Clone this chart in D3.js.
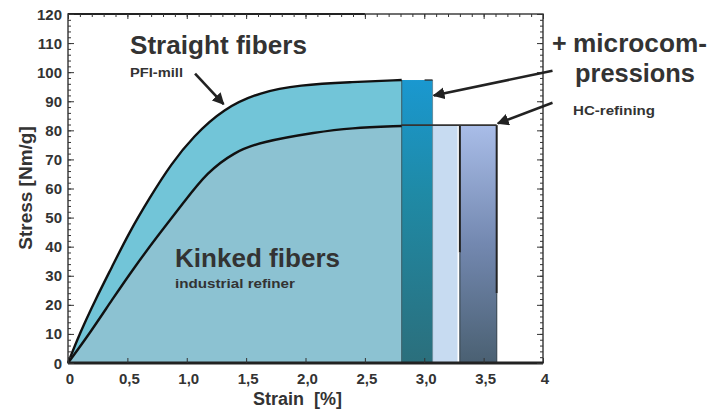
<!DOCTYPE html>
<html>
<head>
<meta charset="utf-8">
<script src="https://cdn.jsdelivr.net/npm/d3@7"></script>
<style>
  body { margin: 0; background: #fff; }
  svg { display: block; }
  text { font-family: "Liberation Sans", Arial, sans-serif; font-weight: bold; fill: #333; }
</style>
</head>
<body>
<svg width="710" height="412"></svg>
<script>
// curve (strain %, stress Nm/g)
var strainStraight = [0, 0.10, 0.23, 0.37, 0.51, 0.69, 0.87, 1.05, 1.31, 1.62, 1.95, 2.37, 2.81];
var stressStraight = [0, 10.3, 21.7, 33, 44.5, 57, 68.5, 77.7, 87.5, 93.2, 95.6, 96.6, 97.3];
var strainKinked = [0, 0.185, 0.37, 0.56, 0.77, 0.98, 1.17, 1.40, 1.62, 2.10, 2.37, 2.81];
var stressKinked = [0, 10.3, 21.7, 33, 44.5, 55.5, 65.5, 72.5, 76, 79.4, 80.8, 81.5];

// the blocks after the curves
var barNames = ["microcompressions", "kinked-end", "HC-refining"];
var barStart = [2.81, 3.07, 3.30];
var barEnd = [3.07, 3.28, 3.61];
var barTop = [97.3, 81.8, 81.8];

var xTicks = [0, 0.5, 1.0, 1.5, 2.0, 2.5, 3.0, 3.5, 4];
var xTickLabels = ["0", "0,5", "1,0", "1,5", "2,0", "2,5", "3,0", "3,5", "4"];
var yTicks = [0, 10, 20, 30, 40, 50, 60, 70, 80, 90, 100, 110, 120];

var svg = d3.select("svg");
// note: "top" is reserved on window, so plot edges get a prefix
var pLeft = 68, pRight = 543, pTop = 14, pBottom = 363;

var x = d3.scaleLinear().domain([0, 4]).range([pLeft, pRight]);
var y = d3.scaleLinear().domain([0, 120]).range([pBottom, pTop]);

var defs = svg.append("defs");
function vGrad(id, stops) {
    var g = defs.append("linearGradient").attr("id", id)
        .attr("x1", 0).attr("y1", 0).attr("x2", 0).attr("y2", 1);
    stops.forEach(function(s) {
        g.append("stop").attr("offset", s[0]).attr("stop-color", s[1]);
    });
}
vGrad("gMicro", [[0, "#1a98d0"], [0.4, "#1f8aa6"], [1, "#2b6f7c"]]);
vGrad("gHC", [[0, "#a9bde8"], [0.5, "#7388b0"], [1, "#4a6072"]]);

defs.append("marker").attr("id", "arrow")
    .attr("viewBox", "0 0 10 10").attr("refX", 9).attr("refY", 5)
    .attr("markerWidth", 4.6).attr("markerHeight", 4.6).attr("orient", "auto")
    .append("path").attr("d", "M0,0 L10,5 L0,10 z").attr("fill", "#222");

var straight = strainStraight.map((s, i) => [s, stressStraight[i]]);
var kinked = strainKinked.map((s, i) => [s, stressKinked[i]]);

var area = d3.area().x(d => x(d[0])).y0(y(0)).y1(d => y(d[1])).curve(d3.curveBasis);
var line = d3.line().x(d => x(d[0])).y(d => y(d[1])).curve(d3.curveBasis);

svg.append("path").datum(straight).attr("d", area).attr("fill", "#72c5d8");
svg.append("path").datum(kinked).attr("d", area).attr("fill", "#8cc2d2");

var barFills = ["url(#gMicro)", "#c7dbf1", "url(#gHC)"];
svg.selectAll(".blk").data(barNames).enter().append("rect")
    .attr("class", "blk")
    .attr("x", (d, i) => x(barStart[i]))
    .attr("width", (d, i) => x(barEnd[i]) - x(barStart[i]))
    .attr("y", (d, i) => y(barTop[i]))
    .attr("height", (d, i) => y(0) - y(barTop[i]))
    .attr("fill", (d, i) => barFills[i]);

// edges of the blocks
svg.append("line").attr("x1", x(barStart[0])).attr("x2", x(barStart[0]))
    .attr("y1", y(barTop[0])).attr("y2", y(0)).attr("stroke", "#3f6670").attr("stroke-width", 1.2);
svg.append("line").attr("x1", x(barEnd[0])).attr("x2", x(barEnd[0]))
    .attr("y1", y(barTop[0])).attr("y2", y(0)).attr("stroke", "#5a8090").attr("stroke-width", 0.8);
[barStart[2], barEnd[2]].forEach(function(v, k) {
    svg.append("line").attr("x1", x(v)).attr("x2", x(v))
        .attr("y1", y(barTop[2])).attr("y2", y(k == 0 ? 38 : 24))
        .attr("stroke", "#222").attr("stroke-width", 2);
    svg.append("line").attr("x1", x(v)).attr("x2", x(v))
        .attr("y1", y(k == 0 ? 38 : 24)).attr("y2", y(0))
        .attr("stroke", "#3e4c58").attr("stroke-width", 1.2);
});
// top edges of kinked continuation
svg.append("line").attr("x1", x(barStart[0])).attr("x2", x(barEnd[2]))
    .attr("y1", y(barTop[2])).attr("y2", y(barTop[2]))
    .attr("stroke", "#333").attr("stroke-width", 1.6);
svg.append("line").attr("x1", x(barEnd[0]) - 8).attr("x2", x(barEnd[0]))
    .attr("y1", y(barTop[0])).attr("y2", y(barTop[0]))
    .attr("stroke", "#333").attr("stroke-width", 1.4);

svg.append("path").datum(straight).attr("d", line)
    .attr("fill", "none").attr("stroke", "#111").attr("stroke-width", 2.4);
svg.append("path").datum(kinked).attr("d", line)
    .attr("fill", "none").attr("stroke", "#111").attr("stroke-width", 2.4);

// frame and ticks
svg.append("rect").attr("x", pLeft).attr("y", pTop)
    .attr("width", pRight - pLeft).attr("height", pBottom - pTop)
    .attr("fill", "none").attr("stroke", "#333").attr("stroke-width", 1.4);
svg.append("line").attr("x1", pLeft).attr("x2", x(2.5)).attr("y1", pTop).attr("y2", pTop)
    .attr("stroke", "#222").attr("stroke-width", 2.2);
svg.append("line").attr("x1", pLeft).attr("x2", pRight).attr("y1", pBottom).attr("y2", pBottom)
    .attr("stroke", "#222").attr("stroke-width", 3);

function ticks(axis, pos, vals, size) {
    var g = svg.append("g").attr("transform", pos)
        .call(axis.tickValues(vals).tickSize(size).tickFormat(""));
    g.select(".domain").remove();
    g.selectAll("line").attr("stroke", "#333").attr("stroke-width", 1);
}
var yMinor = d3.range(0, 121, 2);
var xMinor = d3.range(0, 4.001, 0.1);
ticks(d3.axisRight(y), "translate(" + pLeft + ",0)", yMinor, 3);
ticks(d3.axisRight(y), "translate(" + pLeft + ",0)", yTicks, 6);
ticks(d3.axisLeft(y), "translate(" + pRight + ",0)", yMinor, 3);
ticks(d3.axisLeft(y), "translate(" + pRight + ",0)", yTicks, 6);
ticks(d3.axisBottom(x), "translate(0," + pTop + ")", xMinor, 3);
ticks(d3.axisBottom(x), "translate(0," + pTop + ")", xTicks, 5);
ticks(d3.axisTop(x), "translate(0," + pBottom + ")", xTicks, 5);

svg.selectAll(".ylab").data(yTicks).enter().append("text")
    .attr("class", "ylab")
    .attr("x", 62).attr("y", d => y(d) + 5.5)
    .attr("text-anchor", "end").attr("font-size", 15)
    .text(d => d);
svg.selectAll(".xlab").data(xTicks).enter().append("text")
    .attr("class", "xlab")
    .attr("x", d => x(d) + 2).attr("y", 384)
    .attr("text-anchor", "middle").attr("font-size", 15)
    .text((d, i) => xTickLabels[i]);

svg.append("text").attr("transform", "translate(32,188) rotate(-90)")
    .attr("text-anchor", "middle").attr("font-size", 19).text("Stress [Nm/g]");
svg.append("text").attr("x", 253).attr("y", 405)
    .attr("font-size", 18).attr("xml:space", "preserve").text("Strain  [%]");

// annotations
function label(txt, px, py, size, len) {
    var t = svg.append("text").attr("x", px).attr("y", py).attr("font-size", size).text(txt);
    if (len) t.attr("textLength", len).attr("lengthAdjust", "spacingAndGlyphs");
}
label("Straight fibers", 130, 54, 25, 177);
label("PFI-mill", 130, 77, 12, 53);
label("Kinked fibers", 175, 267, 25, 165);
label("industrial refiner", 175, 288, 13, 120);
label("+", 552, 52, 25);
label("microcom-", 573, 52, 25, 134);
label("pressions", 575, 82, 25, 120);
label("HC-refining", 573, 115, 13, 82);

var arrows = [
    [[1.07, 99.5], [1.31, 89]],
    [[4.08, 100.5], [3.08, 92]],
    [[4.08, 89.5], [3.62, 82.4]]
];
arrows.forEach(function(a) {
    svg.append("line")
        .attr("x1", x(a[0][0])).attr("y1", y(a[0][1]))
        .attr("x2", x(a[1][0])).attr("y2", y(a[1][1]))
        .attr("stroke", "#222").attr("stroke-width", 2.6)
        .attr("marker-end", "url(#arrow)");
});
</script>
</body>
</html>
